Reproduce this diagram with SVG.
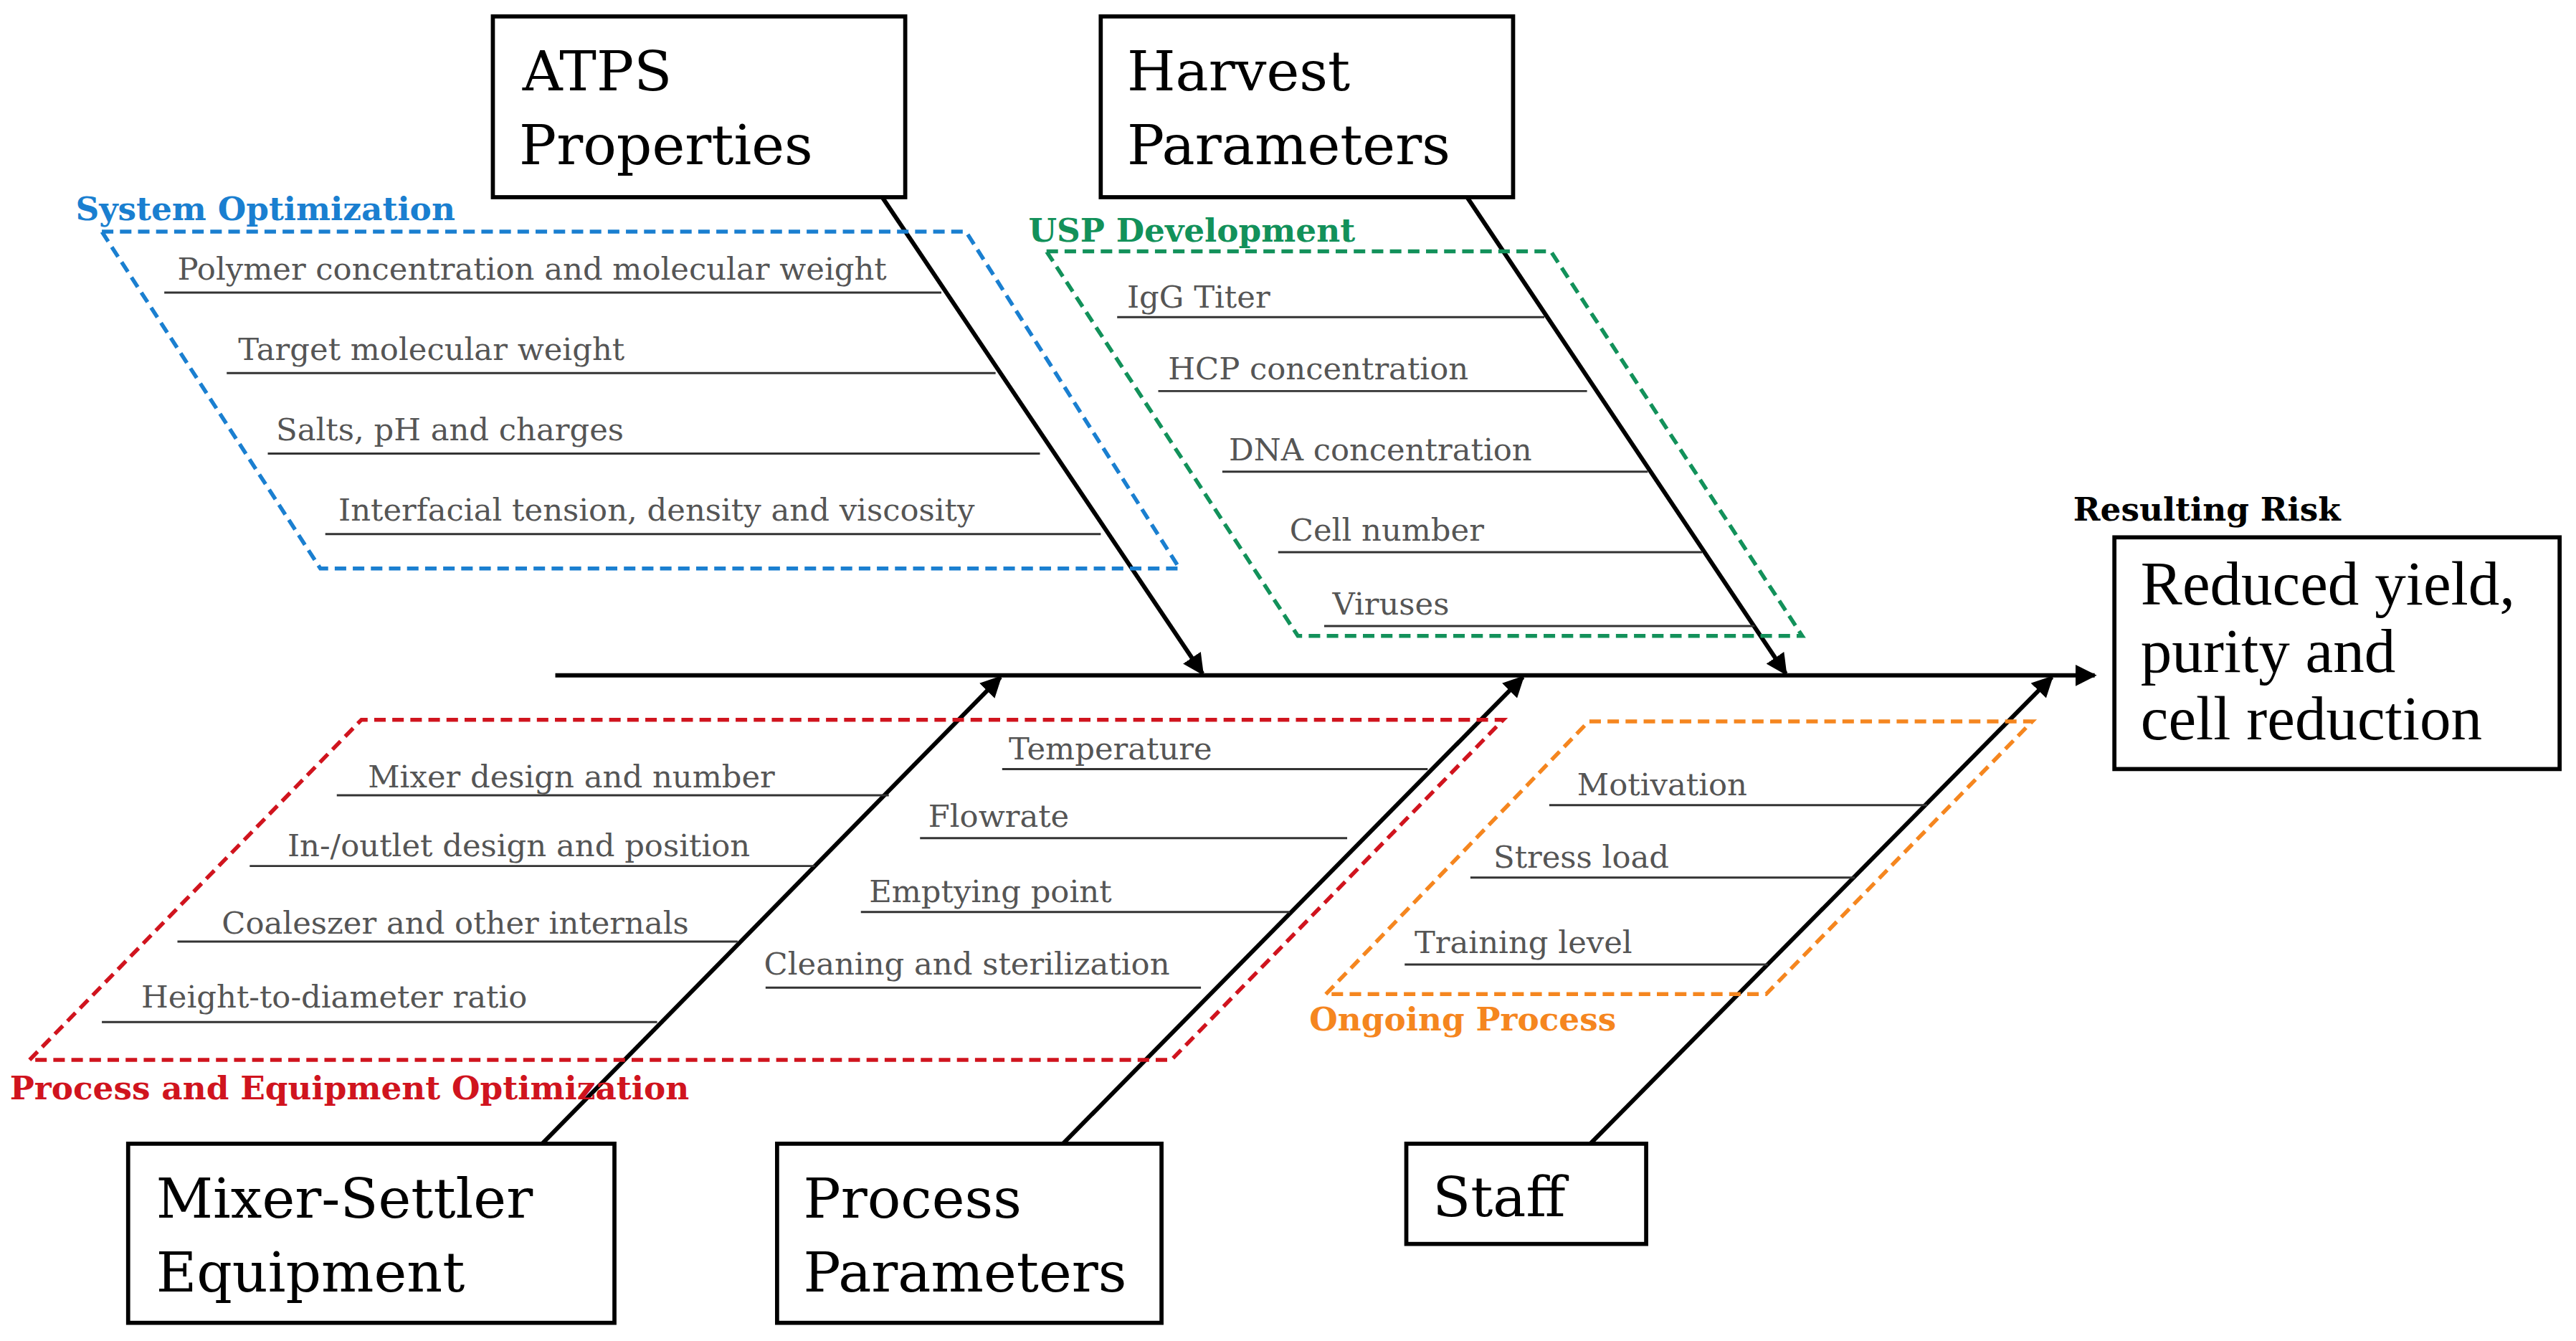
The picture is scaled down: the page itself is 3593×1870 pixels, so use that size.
<svg xmlns="http://www.w3.org/2000/svg" width="3593" height="1870" viewBox="0 0 3593 1870">
<style>
.box{fill:#fff;stroke:#000;stroke-width:2.5}
.bt{font-family:"DejaVu Serif","Liberation Serif",serif;font-size:33.8px;fill:#000}
.rt{font-family:"Liberation Serif","DejaVu Serif",serif;font-size:38px;fill:#000}
.it{font-family:"DejaVu Serif","Liberation Serif",serif;font-size:18.9px;fill:#555}
.ul{stroke:#333;stroke-width:1.3}
.arr{stroke:#000;stroke-width:2.6;fill:none;marker-end:url(#ah)}
.dash{fill:none;stroke-width:2.4;stroke-dasharray:7,4}
.cat{font-family:"DejaVu Serif","Liberation Serif",serif;font-size:19.8px;font-weight:bold}
</style>
<defs><marker id="ah" viewBox="0 0 10 10" refX="9" refY="5" markerWidth="5" markerHeight="5" orient="auto"><path d="M0,0 L10,5 L0,10 z" fill="#000"/></marker></defs>
<rect width="3593" height="1870" fill="#fff"/>
<g transform="scale(2.2915)">
<g id="connectors">
<line class="arr" x1="338" y1="411" x2="1275" y2="411"/>
<line class="arr" x1="537" y1="120" x2="732" y2="410"/>
<line class="arr" x1="893" y1="120" x2="1087" y2="410"/>
<line class="arr" x1="330" y1="696" x2="609" y2="412"/>
<line class="arr" x1="647" y1="696" x2="927" y2="412"/>
<line class="arr" x1="968" y1="696" x2="1249" y2="412"/>
</g>
<g id="system-optimization">
<polygon class="dash" stroke="#1a7fd0" points="62,141 588,141 718,346 195,346"/>
<text class="cat" fill="#1a7fd0" x="46" y="134">System Optimization</text>
<text class="it" x="108" y="170">Polymer concentration and molecular weight</text><line class="ul" x1="100" y1="178" x2="573" y2="178"/>
<text class="it" x="145" y="219">Target molecular weight</text><line class="ul" x1="138" y1="227" x2="606" y2="227"/>
<text class="it" x="168" y="268">Salts, pH and charges</text><line class="ul" x1="163" y1="276" x2="633" y2="276"/>
<text class="it" x="206" y="317">Interfacial tension, density and viscosity</text><line class="ul" x1="198" y1="325" x2="670" y2="325"/>
</g>
<g id="usp-development">
<polygon class="dash" stroke="#12915a" points="637,153 944,153 1097,387 790,387"/>
<text class="cat" fill="#12915a" x="626" y="147">USP Development</text>
<text class="it" x="686" y="187">IgG Titer</text><line class="ul" x1="680" y1="193" x2="940" y2="193"/>
<text class="it" x="711" y="231">HCP concentration</text><line class="ul" x1="705" y1="238" x2="966" y2="238"/>
<text class="it" x="748" y="280">DNA concentration</text><line class="ul" x1="744" y1="287" x2="1003" y2="287"/>
<text class="it" x="785" y="329">Cell number</text><line class="ul" x1="778" y1="336" x2="1036" y2="336"/>
<text class="it" x="811" y="374">Viruses</text><line class="ul" x1="806" y1="381" x2="1068" y2="381"/>
</g>
<g id="process-equipment-optimization">
<polygon class="dash" stroke="#d0141e" points="18,645 220,438 915,438 713,645"/>
<text class="cat" fill="#d0141e" x="6" y="669">Process and Equipment Optimization</text>
<text class="it" x="224" y="479">Mixer design and number</text><line class="ul" x1="205" y1="484" x2="541" y2="484"/>
<text class="it" x="175" y="521">In-/outlet design and position</text><line class="ul" x1="152" y1="527" x2="496" y2="527"/>
<text class="it" x="135" y="568">Coaleszer and other internals</text><line class="ul" x1="108" y1="573" x2="449" y2="573"/>
<text class="it" x="86" y="613">Height-to-diameter ratio</text><line class="ul" x1="62" y1="622" x2="400" y2="622"/>
<text class="it" x="614" y="462">Temperature</text><line class="ul" x1="610" y1="468" x2="869" y2="468"/>
<text class="it" x="565" y="503">Flowrate</text><line class="ul" x1="560" y1="510" x2="820" y2="510"/>
<text class="it" x="529" y="549">Emptying point</text><line class="ul" x1="524" y1="555" x2="785" y2="555"/>
<text class="it" x="465" y="593">Cleaning and sterilization</text><line class="ul" x1="466" y1="601" x2="731" y2="601"/>
</g>
<g id="ongoing-process">
<polygon class="dash" stroke="#f5861f" points="807,605 967,439 1237,439 1075,605"/>
<text class="cat" fill="#f5861f" x="797" y="627">Ongoing Process</text>
<text class="it" x="960" y="484">Motivation</text><line class="ul" x1="943" y1="490" x2="1173" y2="490"/>
<text class="it" x="909" y="528">Stress load</text><line class="ul" x1="895" y1="534" x2="1129" y2="534"/>
<text class="it" x="861" y="580">Training level</text><line class="ul" x1="855" y1="587" x2="1076" y2="587"/>
</g>
<g id="atps"><rect class="box" x="300" y="10" width="251" height="110"/><text class="bt" x="318" y="55">ATPS</text><text class="bt" x="316" y="100">Properties</text></g>
<g id="harvest"><rect class="box" x="670" y="10" width="251" height="110"/><text class="bt" x="686" y="55">Harvest</text><text class="bt" x="686" y="100">Parameters</text></g>
<g id="result"><text class="cat" fill="#000" x="1262" y="317">Resulting Risk</text><rect class="box" x="1287" y="327" width="271" height="141"/><text class="rt" x="1303" y="368">Reduced yield,</text><text class="rt" x="1303" y="409">purity and</text><text class="rt" x="1303" y="450">cell reduction</text></g>
<g id="mixer"><rect class="box" x="78" y="696" width="296" height="109"/><text class="bt" x="95" y="741">Mixer-Settler</text><text class="bt" x="95" y="786">Equipment</text></g>
<g id="process"><rect class="box" x="473" y="696" width="234" height="109"/><text class="bt" x="489" y="741">Process</text><text class="bt" x="489" y="786">Parameters</text></g>
<g id="staff"><rect class="box" x="856" y="696" width="146" height="61"/><text class="bt" x="872" y="740">Staff</text></g>
</g>
</svg>
